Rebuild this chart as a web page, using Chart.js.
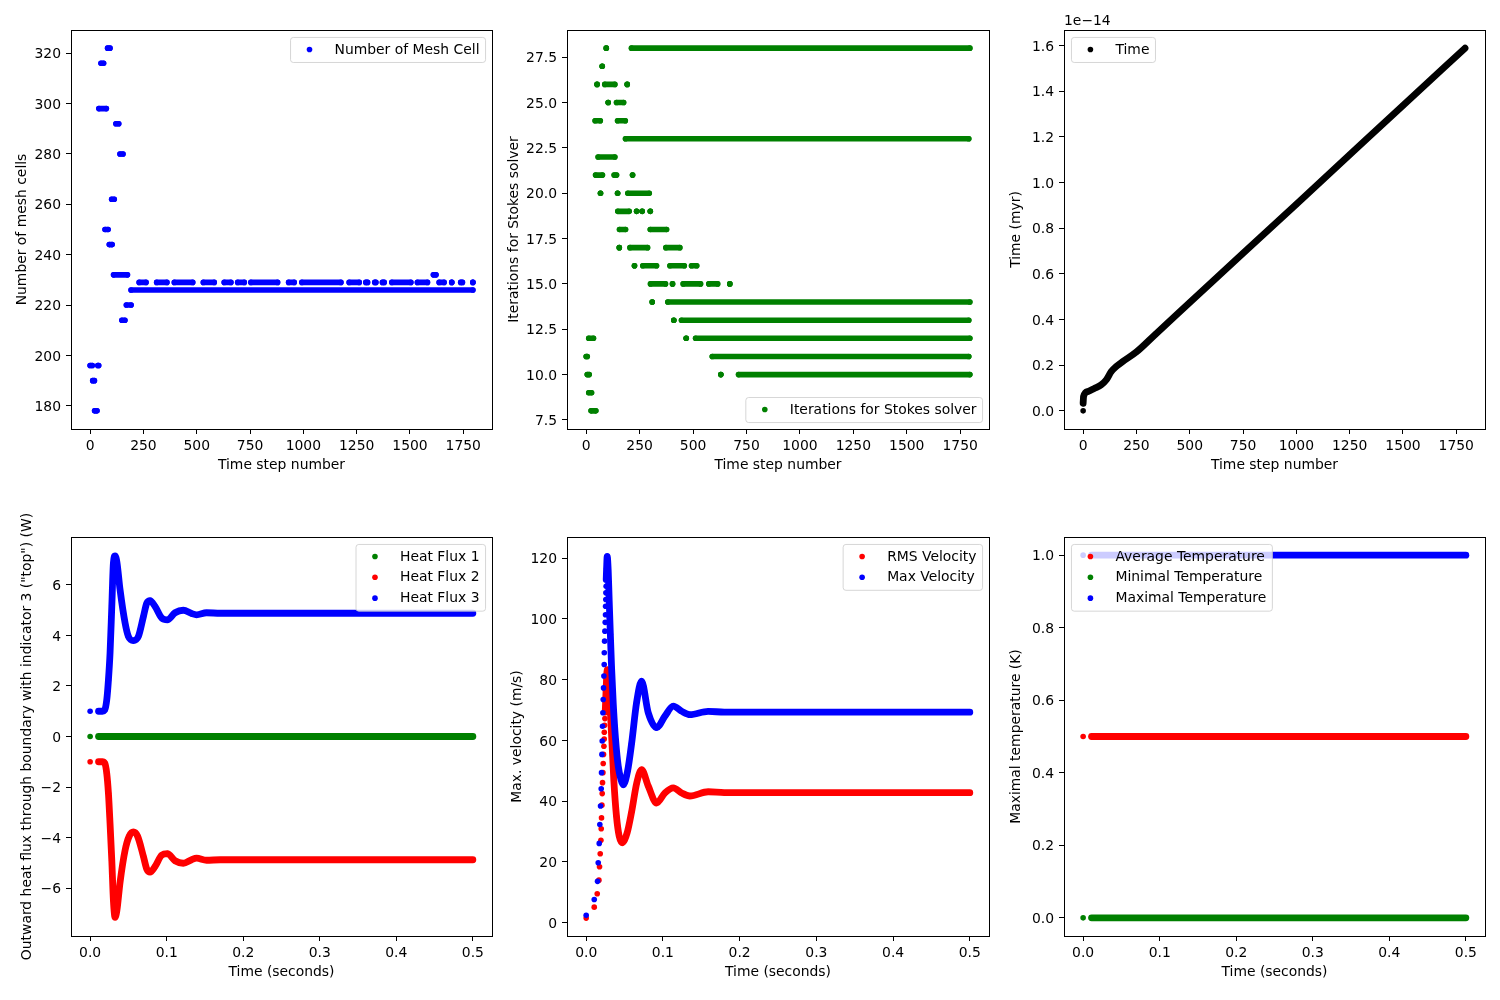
<!DOCTYPE html>
<html>
<head>
<meta charset="utf-8">
<script src="https://cdn.jsdelivr.net/npm/chart.js@4.4.1/dist/chart.umd.min.js"></script>
<style>
  html, body { margin: 0; padding: 0; background: #fff; }
  #page { position: relative; width: 1500px; height: 1000px; overflow: hidden; background: #fff; }
  #page canvas { position: absolute; }
</style>
</head>
<body>
<div id="page"></div>
<script>
// ---------- panel 1: number of mesh cells (runs of equal value: first step, last step, cells)
const meshRunFrom  = [0, 12, 21, 36, 41, 51, 70, 82, 90, 101, 110, 121, 140, 149, 170, 192,
                      230, 312, 395, 531, 629, 692, 754, 931, 993, 1215, 1293, 1335, 1371, 1415, 1535, 1637, 1696, 1738, 1795,
                      1610];
const meshRunTo    = [10, 20, 32, 40, 76, 63, 84, 93, 103, 113, 175, 134, 154, 163, 192, 1795,
                      262, 360, 481, 582, 660, 723, 879, 957, 1176, 1262, 1301, 1340, 1379, 1504, 1582, 1660, 1696, 1746, 1795,
                      1622];
const meshRunCells = [196, 190, 178, 196, 298, 316, 250, 322, 244, 262, 232, 292, 280, 214, 220, 226,
                      229, 229, 229, 229, 229, 229, 229, 229, 229, 229, 229, 229, 229, 229, 229, 229, 229, 229, 229,
                      232];

// ---------- panel 2: iterations for Stokes solver (runs)
const stokesRunFrom  = [94, 212, 75, 51, 87, 192, 103, 142, 42, 147, 184, 56, 44, 131, 217, 67, 147, 195,
                        148, 236, 262, 300, 156, 300, 155, 205, 373, 226, 265, 392, 493,
                        301, 404, 454, 574, 672, 309, 382, 410, 446, 12, 468, 512, 0, 590, 5, 630, 713, 12, 23];
const stokesRunTo    = [94, 1795, 75, 51, 134, 192, 103, 175, 66, 183, 1790, 134, 76, 142, 217, 67, 147, 295,
                        201, 236, 262, 300, 184, 376, 155, 287, 438, 226, 329, 459, 517,
                        371, 404, 535, 615, 672, 309, 1795, 410, 1790, 34, 468, 1795, 5, 1790, 14, 630, 1795, 25, 45];
const stokesRunIters = [28, 28, 27, 26, 26, 26, 25, 25, 24, 24, 23, 22, 21, 21, 21, 20, 20, 20,
                        19, 19, 19, 19, 18, 18, 17, 17, 17, 16, 16, 16, 16,
                        15, 15, 15, 15, 15, 14, 14, 13, 13, 12, 12, 12, 11, 11, 10, 10, 10, 9, 8];

// ---------- panel 3: model time (units of 1e-14 myr)
const timeDotStep = [0];
const timeDotMyr  = [0];
const timeStep = [0, 2, 23, 54, 85, 109, 132, 155, 186, 250, 341, 500, 750, 1000, 1250, 1500, 1791];
const timeMyr  = [0.033, 0.063, 0.085, 0.099, 0.114, 0.136, 0.172, 0.194, 0.216, 0.258, 0.337, 0.474, 0.690, 0.905, 1.121, 1.337, 1.588];

// ---------- panel 4: heat flux through boundary 3
const fluxDotTime = [0];
const flux1Dot = [0];
const flux2Dot = [-1.0];
const flux3Dot = [1.0];
const flux1Time = [0.011, 0.5];
const flux1 = [0, 0];
const flux2Time = [0.011, 0.016, 0.019, 0.0217, 0.0239, 0.026, 0.0283, 0.0304, 0.0326, 0.035, 0.0391, 0.0457, 0.051, 0.0565, 0.062,
                   0.0696, 0.074, 0.0783, 0.0848, 0.0935, 0.1009, 0.1109, 0.1217, 0.1326, 0.139, 0.152, 0.17, 0.5];
const flux2 = [-1.0, -1.0, -1.05, -1.46, -2.25, -3.44, -4.9, -6.49, -7.16, -6.88, -5.77, -4.5, -3.95, -3.78, -3.95,
               -4.75, -5.25, -5.37, -5.15, -4.7, -4.64, -4.92, -5.02, -4.88, -4.82, -4.9, -4.88, -4.88];
const flux3Time = [0.011, 0.016, 0.019, 0.0217, 0.0239, 0.026, 0.0283, 0.0304, 0.0326, 0.035, 0.0391, 0.0457, 0.050, 0.0565, 0.063,
                   0.0696, 0.074, 0.0783, 0.0848, 0.0935, 0.1009, 0.1109, 0.1217, 0.1326, 0.139, 0.152, 0.17, 0.5];
const flux3 = [1.0, 1.0, 1.05, 1.45, 2.24, 3.3, 5.15, 6.87, 7.15, 6.9, 5.81, 4.49, 3.96, 3.8, 3.96,
               4.75, 5.28, 5.38, 5.15, 4.69, 4.62, 4.9, 5.0, 4.87, 4.82, 4.9, 4.88, 4.88];

// ---------- panel 5: velocities
const rmsDotTime = [0, 0.0105, 0.0144, 0.0166, 0.0174, 0.0183, 0.0192, 0.0196, 0.0200, 0.0205, 0.0209, 0.0213, 0.0218,
                    0.0222, 0.0226, 0.0231, 0.0235, 0.0236, 0.0240, 0.0244];
const rmsDotVel  = [1.5, 5.1, 9.5, 14.0, 18.4, 22.7, 27.1, 30.9, 34.5, 38.7, 42.5, 46.1, 49.4,
                    52.4, 55.4, 58.1, 60.5, 62.7, 65.0, 67.2];
const rmsTime = [0.0248, 0.0257, 0.0266, 0.0274, 0.029, 0.031, 0.0335, 0.036, 0.0395, 0.043, 0.047, 0.0533, 0.0592,
                 0.0659, 0.0722, 0.0809, 0.0918, 0.1026, 0.1135, 0.1244, 0.1352, 0.159, 0.18, 0.5];
const rmsVel  = [69.3, 75, 80.5, 83.3, 80, 72, 60, 47, 35, 28.5, 26.3, 29.5, 36.5,
                 46.0, 50.4, 45.0, 39.4, 42.7, 44.4, 42.7, 41.7, 43.1, 42.8, 42.8];
const maxDotTime = [0, 0.0105, 0.0148, 0.0157, 0.0170, 0.0178, 0.0187, 0.0196, 0.0200, 0.0205, 0.0209, 0.0213, 0.0218,
                    0.0222, 0.0226, 0.0231, 0.0235, 0.0236, 0.0240, 0.0244, 0.0248, 0.0252, 0.0253, 0.0256, 0.0257, 0.0260];
const maxDotVel  = [2.4, 7.6, 13.6, 19.7, 26.1, 32.3, 38.4, 44.1, 49.4, 55.4, 59.8, 64.7, 69.1,
                    73.5, 77.3, 81.2, 85.0, 88.9, 92.7, 96.0, 98.9, 101.4, 104.2, 106.4, 108.6, 110.8];
const maxTime = [0.0261, 0.0266, 0.0274, 0.0287, 0.030, 0.0315, 0.0331, 0.0353, 0.0383, 0.0418, 0.0453, 0.0483, 0.054, 0.0592,
                 0.0657, 0.0722, 0.0809, 0.0918, 0.1026, 0.1135, 0.1244, 0.1352, 0.159, 0.18, 0.5];
const maxVel  = [113.0, 116.5, 120.6, 116, 106, 95, 84, 72, 60.3, 51.5, 47.1, 45.4, 50.0, 59.0,
                 72.5, 79.5, 69.1, 64.2, 68.0, 71.3, 69.6, 68.5, 69.6, 69.3, 69.3];

// ---------- panel 6: temperatures
const tempDotTime = [0];
const tempTime = [0.011, 0.5];
const avgTempDot = [0.5], avgTemp = [0.5, 0.5];
const minTempDot = [0],   minTemp = [0, 0];
const maxTempDot = [1.0], maxTemp = [1.0, 1.0];

// ---------- ticks
const stepTicks = [0, 250, 500, 750, 1000, 1250, 1500, 1750];
const secTicks = [0, 0.1, 0.2, 0.3, 0.4, 0.5];
const meshTicks = [180, 200, 220, 240, 260, 280, 300, 320];
const stokesTicks = [7.5, 10, 12.5, 15, 17.5, 20, 22.5, 25, 27.5];
const timeTicks = [0, 0.2, 0.4, 0.6, 0.8, 1.0, 1.2, 1.4, 1.6];
const fluxTicks = [-6, -4, -2, 0, 2, 4, 6];
const velTicks = [0, 20, 40, 60, 80, 100, 120];
const tempTicks = [0, 0.2, 0.4, 0.6, 0.8, 1.0];

const FONT = "'DejaVu Sans', sans-serif";
const FS = 13.9;
const BLUE = "#0000ff";
const GREEN = "#008000";
const RED = "#ff0000";
const BLACK = "#000000";
const DOT_R = 2.8;
const RUN_W = 5.6;
const TRACE_W = 6.8;

Chart.defaults.font.family = FONT;
Chart.defaults.font.size = FS;
Chart.defaults.color = "#000";


function runsToPoints(from, to, vals) {
  const pts = [];
  from.forEach((x0, i) => {
    pts.push({ x: x0, y: vals[i] }, { x: to[i], y: vals[i] }, { x: to[i], y: null });
  });
  return pts;
}

function tracePoints(dotX, dotY, lineX, lineY) {
  const pts = [];
  dotX.forEach((x, i) => pts.push({ x, y: dotY[i] }, { x, y: null }));
  lineX.forEach((x, i) => pts.push({ x, y: lineY[i] }));
  return pts;
}

function series(label, color, points, smooth) {
  return { label, color, points, smooth };
}

function fmt(v, dec) {
  return v.toFixed(dec).replace("-", "\u2212");
}

// axes frame, axis titles, offset text and a matplotlib-like legend
function decorPlugin(cfg) {
  return {
    id: "mplDecor",
    afterDatasetsDraw(chart) {
      const { ctx, chartArea: a } = chart;
      ctx.save();
      ctx.strokeStyle = "#000";
      ctx.lineWidth = 1;
      ctx.strokeRect(a.left + 0.5, a.top + 0.5, a.right - a.left, a.bottom - a.top);

      ctx.font = `${FS}px ${FONT}`;
      ctx.fillStyle = "#000";
      ctx.textAlign = "center";
      ctx.textBaseline = "alphabetic";
      ctx.fillText(cfg.xTitle, (a.left + a.right) / 2, a.bottom + 39.5);

      ctx.save();
      ctx.translate(a.left - cfg.yGap, (a.top + a.bottom) / 2);
      ctx.rotate(-Math.PI / 2);
      ctx.fillText(cfg.yTitle, 0, 0);
      ctx.restore();

      if (cfg.offsetText) {
        ctx.textAlign = "left";
        ctx.fillText(cfg.offsetText, a.left, a.top - 5);
      }

      // legend
      const items = cfg.series;
      const pad = 0.4 * FS, hl = 2 * FS, htp = 0.8 * FS, ls = 0.5 * FS, bap = 0.5 * FS;
      const tw = Math.max(...items.map(s => ctx.measureText(s.label).width));
      const w = 2 * pad + hl + htp + tw;
      const h = 2 * pad + items.length * FS + (items.length - 1) * ls;
      const x = cfg.legendLoc.includes("right") ? a.right - bap - w : a.left + bap;
      const y = cfg.legendLoc.includes("upper") ? a.top + bap : a.bottom - bap - h;
      const r = 0.2 * FS;
      ctx.beginPath();
      ctx.roundRect(x + 0.5, y + 0.5, w, h, r);
      ctx.fillStyle = "rgba(255,255,255,0.8)";
      ctx.fill();
      ctx.strokeStyle = "rgba(204,204,204,0.8)";
      ctx.stroke();
      ctx.textAlign = "left";
      ctx.textBaseline = "middle";
      items.forEach((s, i) => {
        const cy = y + pad + FS / 2 + i * (FS + ls);
        ctx.fillStyle = s.color;
        ctx.beginPath();
        ctx.arc(x + pad + hl / 2, cy, DOT_R, 0, Math.PI * 2);
        ctx.fill();
        ctx.fillStyle = "#000";
        ctx.fillText(s.label, x + pad + hl + htp, cy + 0.5);
      });
      ctx.restore();
    }
  };
}

function axisOptions(min, max, ticks, dec, isX, size) {
  return {
    type: "linear",
    position: isX ? "bottom" : "left",
    min,
    max,
    afterBuildTicks: scale => { scale.ticks = ticks.map(value => ({ value })); },
    afterFit: scale => { if (isX) scale.height = size; else scale.width = size; },
    ticks: {
      autoSkip: false,
      maxRotation: 0,
      minRotation: 0,
      padding: isX ? 4.5 : 5,
      labelOffset: isX ? 0 : 1.5,
      color: "#000",
      font: { family: FONT, size: FS },
      callback: v => fmt(v, dec)
    },
    grid: {
      display: true,
      drawOnChartArea: false,
      drawTicks: true,
      tickLength: 5,
      tickWidth: 1,
      tickColor: "#000"
    },
    border: { display: false }
  };
}

function createPanel(cfg) {
  const [L, T, R, B] = cfg.area;
  const leftSpace = 71, topSpace = 30, rightSpace = 12, bottomSpace = 60;
  const canvas = document.createElement("canvas");
  const W = R - L + leftSpace + rightSpace;
  const H = B - T + topSpace + bottomSpace;
  canvas.width = W;
  canvas.height = H;
  canvas.style.width = W + "px";
  canvas.style.height = H + "px";
  canvas.style.left = (L - leftSpace) + "px";
  canvas.style.top = (T - topSpace) + "px";
  document.getElementById("page").appendChild(canvas);

  const n = cfg.series.length;
  return new Chart(canvas, {
    type: "scatter",
    data: {
      datasets: cfg.series.map((s, i) => ({
        label: s.label,
        data: s.points,
        showLine: true,
        spanGaps: false,
        borderColor: s.color,
        backgroundColor: s.color,
        borderWidth: s.smooth ? TRACE_W : RUN_W,
        borderCapStyle: "round",
        borderJoinStyle: "round",
        pointRadius: DOT_R,
        pointHoverRadius: DOT_R,
        pointBorderWidth: 0,
        tension: s.smooth ? 0.4 : 0,
        cubicInterpolationMode: s.smooth ? "monotone" : "default",
        order: n - i
      }))
    },
    options: {
      responsive: false,
      animation: false,
      devicePixelRatio: 1,
      events: [],
      layout: { padding: { left: 0, top: topSpace, right: rightSpace, bottom: 0 } },
      plugins: { legend: { display: false }, tooltip: { enabled: false } },
      scales: {
        x: axisOptions(cfg.xRange[0], cfg.xRange[1], cfg.xTicks, cfg.xDec, true, bottomSpace),
        y: axisOptions(cfg.yRange[0], cfg.yRange[1], cfg.yTicks, cfg.yDec, false, leftSpace)
      }
    },
    plugins: [decorPlugin(cfg)]
  });
}

const stepRange = [-89.75, 1884.75];
const secRange = [-0.025, 0.525];

createPanel({
  area: [71, 30, 492, 429],
  xRange: stepRange, xTicks: stepTicks, xDec: 0,
  yRange: [170.8, 329.2], yTicks: meshTicks, yDec: 0,
  xTitle: "Time step number", yTitle: "Number of mesh cells", yGap: 45,
  legendLoc: "upper right",
  series: [series("Number of Mesh Cell", BLUE, runsToPoints(meshRunFrom, meshRunTo, meshRunCells), false)]
});

createPanel({
  area: [567, 30, 989, 429],
  xRange: stepRange, xTicks: stepTicks, xDec: 0,
  yRange: [7, 29], yTicks: stokesTicks, yDec: 1,
  xTitle: "Time step number", yTitle: "Iterations for Stokes solver", yGap: 48.7,
  legendLoc: "lower right",
  series: [series("Iterations for Stokes solver", GREEN, runsToPoints(stokesRunFrom, stokesRunTo, stokesRunIters), false)]
});

createPanel({
  area: [1064, 30, 1485, 429],
  xRange: stepRange, xTicks: stepTicks, xDec: 0,
  yRange: [-0.0794, 1.6674], yTicks: timeTicks, yDec: 1,
  xTitle: "Time step number", yTitle: "Time (myr)", yGap: 43.8,
  offsetText: "1e\u221214",
  legendLoc: "upper left",
  series: [series("Time", BLACK, tracePoints(timeDotStep, timeDotMyr, timeStep, timeMyr), true)]
});

createPanel({
  area: [71, 537, 492, 936],
  xRange: secRange, xTicks: secTicks, xDec: 1,
  yRange: [-7.9, 7.9], yTicks: fluxTicks, yDec: 0,
  xTitle: "Time (seconds)", yTitle: "Outward heat flux through boundary with indicator 3 (\"top\") (W)", yGap: 40.5,
  legendLoc: "upper right",
  series: [
    series("Heat Flux 1", GREEN, tracePoints(fluxDotTime, flux1Dot, flux1Time, flux1), true),
    series("Heat Flux 2", RED, tracePoints(fluxDotTime, flux2Dot, flux2Time, flux2), true),
    series("Heat Flux 3", BLUE, tracePoints(fluxDotTime, flux3Dot, flux3Time, flux3), true)
  ]
});

createPanel({
  area: [567, 537, 989, 936],
  xRange: secRange, xTicks: secTicks, xDec: 1,
  yRange: [-4.4, 127], yTicks: velTicks, yDec: 0,
  xTitle: "Time (seconds)", yTitle: "Max. velocity (m/s)", yGap: 46.5,
  legendLoc: "upper right",
  series: [
    series("RMS Velocity", RED, tracePoints(rmsDotTime, rmsDotVel, rmsTime, rmsVel), true),
    series("Max Velocity", BLUE, tracePoints(maxDotTime, maxDotVel, maxTime, maxVel), true)
  ]
});

createPanel({
  area: [1064, 537, 1485, 936],
  xRange: secRange, xTicks: secTicks, xDec: 1,
  yRange: [-0.05, 1.05], yTicks: tempTicks, yDec: 1,
  xTitle: "Time (seconds)", yTitle: "Maximal temperature (K)", yGap: 43.8,
  legendLoc: "upper left",
  series: [
    series("Average Temperature", RED, tracePoints(tempDotTime, avgTempDot, tempTime, avgTemp), true),
    series("Minimal Temperature", GREEN, tracePoints(tempDotTime, minTempDot, tempTime, minTemp), true),
    series("Maximal Temperature", BLUE, tracePoints(tempDotTime, maxTempDot, tempTime, maxTemp), true)
  ]
});
</script>
</body>
</html>
